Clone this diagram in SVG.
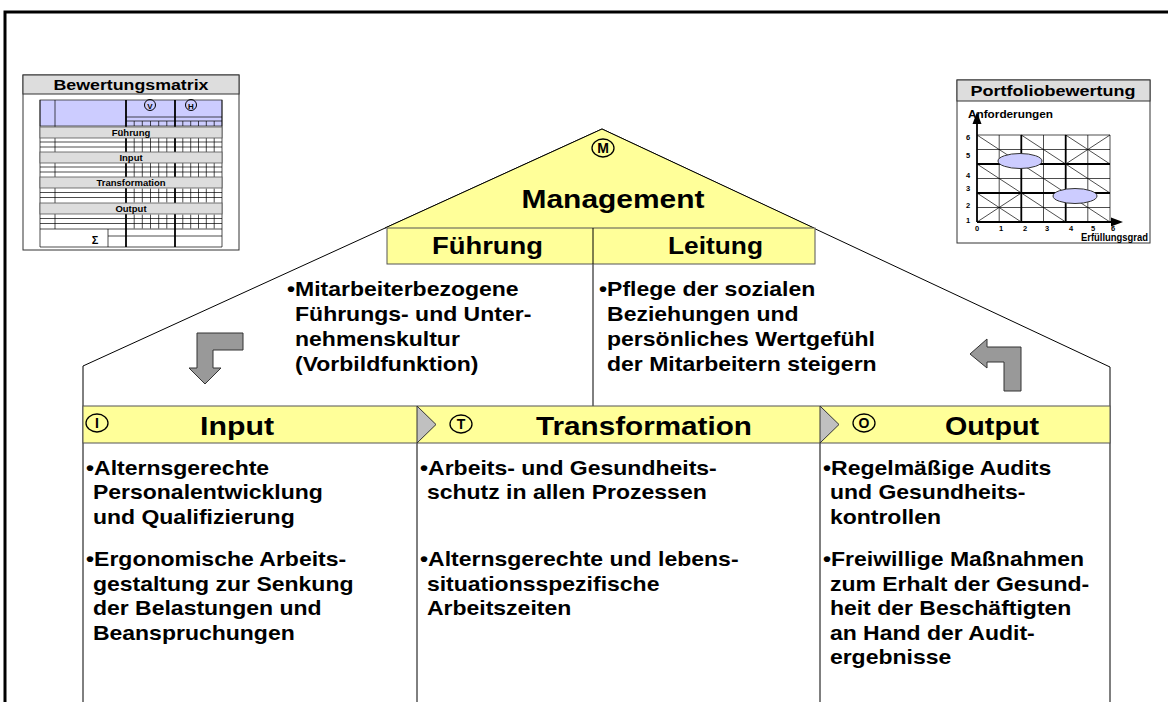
<svg xmlns="http://www.w3.org/2000/svg" width="1168" height="702" viewBox="0 0 1168 702">
<style>
text{font-family:"Liberation Sans",Arial,sans-serif;font-weight:bold;fill:#000}
.ln{stroke:#000;stroke-width:1;fill:none}
.yel{fill:#FFFF99;stroke:#555;stroke-width:1}
.arrow{fill:#999999;stroke:#333;stroke-width:1}
.tri{fill:#C0C0C0;stroke:#333;stroke-width:1}
.body{font-size:20px}
.hdr{font-size:26px}
.circ{fill:none;stroke:#000;stroke-width:1.3}
.ctext{font-size:14px;text-anchor:middle}
.gband{fill:#DDDDDD;stroke:#555;stroke-width:0.8}
.thin{stroke:#000;stroke-width:0.7;fill:none}
.thick{stroke:#000;stroke-width:1.8;fill:none}
.blue{fill:#CCCCFF;stroke:#333;stroke-width:0.8}
</style>
<defs>
<path id="ticks" d="M134.2 0V14M142.3 0V14M150.5 0V14M158.7 0V14M166.8 0V14M182.8 0V14M190.7 0V14M198.5 0V14M206.3 0V14M214.2 0V14M40 4H222M40 9H222" class="thin"/>
</defs>

<rect x="5" y="12" width="1175" height="700" fill="none" stroke="#000" stroke-width="3"/>

<g id="connectors">
<polyline class="ln" points="83,702 83,366 602,129 1110,367 1110,702"/>
<line class="ln" x1="593" y1="264" x2="593" y2="406"/>
<line class="ln" x1="417" y1="443" x2="417" y2="702"/>
<line class="ln" x1="820" y1="443" x2="820" y2="702"/>
<polygon class="arrow" points="197,333 243,333 243,350 213,350 213,368 221,368 205,384 189,368 197,368"/>
<polygon class="arrow" points="970,354 987,339 987,347 1021,347 1021,391 1004,391 1004,362 987,362 987,368"/>
</g>

<g id="management">
<polygon points="602,129 385,228 814,228" fill="#FFFF99"/>
<polyline class="ln" points="385,228 602,129 814,228"/>
<ellipse class="circ" cx="603" cy="148" rx="11" ry="9"/>
<text class="ctext" x="603" y="153">M</text>
<text x="613" y="208" font-size="25" text-anchor="middle" textLength="183" lengthAdjust="spacingAndGlyphs">Management</text>
</g>

<g id="fuehrung-leitung">
<rect class="yel" x="387" y="228" width="428" height="36"/>
<line class="ln" x1="593" y1="228" x2="593" y2="264"/>
<text x="487.5" y="254" font-size="23" text-anchor="middle" textLength="111" lengthAdjust="spacingAndGlyphs">Führung</text>
<text x="715.5" y="254" font-size="23" text-anchor="middle" textLength="95" lengthAdjust="spacingAndGlyphs">Leitung</text>
</g>

<g id="fuehrung-text" transform="translate(287 0) scale(1.15 1)">
<text class="body"><tspan x="0" y="296">•Mitarbeiterbezogene</tspan><tspan x="7" y="321">Führungs- und Unter-</tspan><tspan x="7" y="346">nehmenskultur</tspan><tspan x="7" y="371">(Vorbildfunktion)</tspan></text>
</g>
<g id="leitung-text" transform="translate(599 0) scale(1.15 1)">
<text class="body"><tspan x="0" y="296">•Pflege der sozialen</tspan><tspan x="7" y="321">Beziehungen und</tspan><tspan x="7" y="346">persönliches Wertgefühl</tspan><tspan x="7" y="371">der Mitarbeitern steigern</tspan></text>
</g>

<g id="band">
<rect class="yel" x="83" y="406" width="1027" height="37"/>
<polygon class="tri" points="417,406 436,424.5 417,443"/>
<polygon class="tri" points="820,406 839,424.5 820,443"/>
</g>

<g id="input">
<ellipse class="circ" cx="97" cy="423" rx="11" ry="9"/>
<text class="ctext" x="97" y="428">I</text>
<text class="hdr" x="237" y="435" text-anchor="middle" textLength="74" lengthAdjust="spacingAndGlyphs">Input</text>
<g transform="translate(86 0) scale(1.15 1)">
<text class="body"><tspan x="0" y="475">•Alternsgerechte</tspan><tspan x="6" y="499.5">Personalentwicklung</tspan><tspan x="6" y="524">und Qualifizierung</tspan><tspan x="0" y="566.5">•Ergonomische Arbeits-</tspan><tspan x="6" y="591">gestaltung zur Senkung</tspan><tspan x="6" y="615.5">der Belastungen und</tspan><tspan x="6" y="640">Beanspruchungen</tspan></text>
</g>
</g>

<g id="transformation">
<ellipse class="circ" cx="461" cy="424" rx="11" ry="9"/>
<text class="ctext" x="461" y="429">T</text>
<text class="hdr" x="644" y="435" text-anchor="middle" textLength="216" lengthAdjust="spacingAndGlyphs">Transformation</text>
<g transform="translate(420 0) scale(1.15 1)">
<text class="body"><tspan x="0" y="475">•Arbeits- und Gesundheits-</tspan><tspan x="6" y="499.5">schutz in allen Prozessen</tspan><tspan x="0" y="566.5">•Alternsgerechte und lebens-</tspan><tspan x="6" y="591">situationsspezifische</tspan><tspan x="6" y="615.5">Arbeitszeiten</tspan></text>
</g>
</g>

<g id="output">
<ellipse class="circ" cx="864" cy="423" rx="11" ry="9"/>
<text class="ctext" x="864" y="428">O</text>
<text class="hdr" x="992" y="435" text-anchor="middle" textLength="94" lengthAdjust="spacingAndGlyphs">Output</text>
<g transform="translate(823 0) scale(1.15 1)">
<text class="body"><tspan x="0" y="475">•Regelmäßige Audits</tspan><tspan x="6" y="499.5">und Gesundheits-</tspan><tspan x="6" y="524">kontrollen</tspan><tspan x="0" y="566.5">•Freiwillige Maßnahmen</tspan><tspan x="6" y="591">zum Erhalt der Gesund-</tspan><tspan x="6" y="615.5">heit der Beschäftigten</tspan><tspan x="6" y="640">an Hand der Audit-</tspan><tspan x="6" y="664.5">ergebnisse</tspan></text>
</g>
</g>

<g id="bewertungsmatrix">
<rect x="23" y="75" width="216" height="175" fill="#fff" stroke="#333" stroke-width="1"/>
<rect x="23" y="75" width="216" height="19" fill="#DDDDDD" stroke="#333" stroke-width="1"/>
<text x="131" y="90" font-size="14.5" text-anchor="middle" textLength="155" lengthAdjust="spacingAndGlyphs">Bewertungsmatrix</text>
<rect class="blue" x="40" y="100" width="182" height="26"/>
<path class="thin" d="M55 100V229M126 117H222M126 121H222M134.2 121V126M142.3 121V126M150.5 121V126M158.7 121V126M166.8 121V126M182.8 121V126M190.7 121V126M198.5 121V126M206.3 121V126M214.2 121V126"/>
<circle cx="150" cy="105" r="5.5" fill="none" stroke="#000" stroke-width="1"/>
<text x="150" y="108.5" font-size="8" text-anchor="middle">V</text>
<circle cx="191" cy="105" r="5.5" fill="none" stroke="#000" stroke-width="1"/>
<text x="191" y="108.5" font-size="8" text-anchor="middle">H</text>
<use href="#ticks" transform="translate(0 138)"/>
<use href="#ticks" transform="translate(0 163)"/>
<use href="#ticks" transform="translate(0 188.5)"/>
<use href="#ticks" transform="translate(0 214.5)"/>
<path class="thin" d="M40 100V247H222V100M40 229H222M108 229V247M108 236H222"/>
<path class="thick" d="M126 100V247M175 100V247"/>
<rect class="gband" x="40" y="127" width="182" height="11"/>
<text x="131" y="136" font-size="9.5" text-anchor="middle">Führung</text>
<rect class="gband" x="40" y="152" width="182" height="11"/>
<text x="131" y="161" font-size="9.5" text-anchor="middle">Input</text>
<rect class="gband" x="40" y="177" width="182" height="11"/>
<text x="131" y="186" font-size="9.5" text-anchor="middle">Transformation</text>
<rect class="gband" x="40" y="203" width="182" height="11"/>
<text x="131" y="212" font-size="9.5" text-anchor="middle">Output</text>
<text x="95" y="244" font-size="11" text-anchor="middle">Σ</text>
</g>

<g id="portfoliobewertung">
<rect x="957" y="80" width="193" height="163" fill="#fff" stroke="#333" stroke-width="1"/>
<rect x="957" y="80" width="193" height="21" fill="#DDDDDD" stroke="#333" stroke-width="1"/>
<text x="1053" y="96" font-size="15" text-anchor="middle" textLength="165" lengthAdjust="spacingAndGlyphs">Portfoliobewertung</text>
<path class="thin" d="M999.2 135V222M1043.5 135V222M1087.8 135V222M1110 135V222M977 135H1110M977 149.5H1110M977 178.5H1110M977 207.5H1110"/>
<path class="thin" d="M977 135L1110 222M1021.3 135L1110 193M1065.7 135L1110 164M977 164L1065.7 222M977 193L1021.3 222M1065.7 164L1110 135M977 222L1021.3 193"/>
<path class="thick" d="M1021.3 135V222M1065.7 135V222M977 164H1110M977 193H1110M977 222V122M977 222H1113"/>
<polygon points="972.5,124 977,112 981.5,124" fill="#000"/>
<polygon points="1111,217.5 1123,222 1111,226.5" fill="#000"/>
<ellipse cx="1020" cy="161" rx="22" ry="7.5" fill="#CCCCFF" stroke="#333" stroke-width="1"/>
<ellipse cx="1075" cy="196" rx="22" ry="7.5" fill="#CCCCFF" stroke="#333" stroke-width="1"/>
<text x="968" y="118" font-size="10.5" textLength="85" lengthAdjust="spacingAndGlyphs">Anforderungen</text>
<g font-size="7.5" text-anchor="middle">
<text x="968" y="140">6</text><text x="968" y="158">5</text><text x="968" y="178">4</text><text x="968" y="191">3</text><text x="968" y="208">2</text><text x="968" y="223">1</text>
<text x="977" y="230.5">0</text><text x="1001" y="230.5">1</text><text x="1025" y="230.5">2</text><text x="1047" y="230.5">3</text><text x="1071" y="230.5">4</text><text x="1093" y="230.5">5</text><text x="1113" y="230.5">6</text>
</g>
<text x="1081" y="241" font-size="10" textLength="67" lengthAdjust="spacingAndGlyphs">Erfüllungsgrad</text>
</g>
</svg>
